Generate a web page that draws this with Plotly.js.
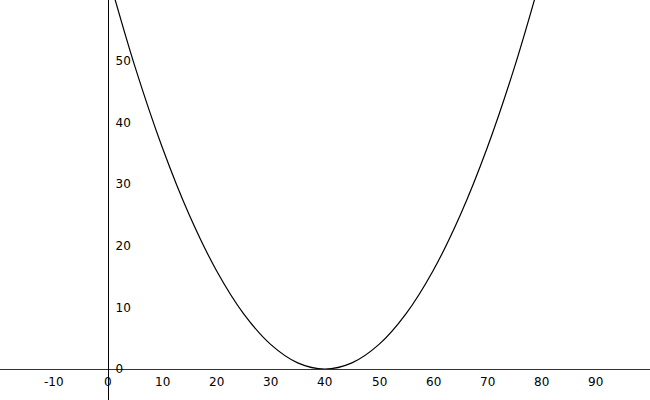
<!DOCTYPE html>
<html>
<head>
<meta charset="utf-8">
<script src="https://cdn.plot.ly/plotly-3.0.1.min.js"></script>
<style>html,body{margin:0;padding:0;background:#fff}#chart{width:650px;height:400px}</style>
</head>
<body>
<div id="chart"></div>
<script>
// Points
var xValues = [0, 5, 10, 15, 20, 25, 30, 35, 40, 45, 50, 55, 60, 65, 70, 75, 80];
var yValues = [64, 49, 36, 25, 16, 9, 4, 1, 0, 1, 4, 9, 16, 25, 36, 49, 64];
var xTicks = [-10, 0, 10, 20, 30, 40, 50, 60, 70, 80, 90];
var yTicks = [0, 10, 20, 30, 40, 50];

var trace = {
  x: xValues, y: yValues, type: 'scatter', mode: 'lines',
  line: {color: '#000', width: 1.2, shape: 'spline', smoothing: 1},
  hoverinfo: 'none'
};

var xLabelAnnotations = xTicks.map(function (v) {
  return {
    x: v, y: 0, xref: 'x', yref: 'y', text: String(v),
    showarrow: false, xanchor: 'center', yanchor: 'top', yshift: -4,
    font: {family: 'DejaVu Sans', size: 12, color: '#000'}
  };
});

var layout = {
  width: 650, height: 400,
  margin: {l: 0, r: 0, t: 0, b: 0},
  paper_bgcolor: '#fff', plot_bgcolor: '#fff',
  showlegend: false,
  font: {family: 'DejaVu Sans', size: 12, color: '#000'},
  xaxis: {
    range: [-19.93, 100], showgrid: false, zeroline: false,
    showline: true, linecolor: '#333', linewidth: 1,
    anchor: 'free', position: 31 / 400,
    tickvals: xTicks, showticklabels: false, ticks: ''
  },
  yaxis: {
    range: [-5.03, 59.9], showgrid: false, zeroline: false,
    showline: true, linecolor: '#000', linewidth: 1,
    anchor: 'free', position: 108 / 650,
    tickvals: yTicks, ticktext: yTicks.map(String),
    ticks: '', ticklabelposition: 'inside', ticklabelstandoff: 6,
    tickfont: {family: 'DejaVu Sans', size: 12, color: '#000'}
  },
  annotations: xLabelAnnotations
};

Plotly.newPlot('chart', [trace], layout, {displayModeBar: false, staticPlot: true});
</script>
</body>
</html>
